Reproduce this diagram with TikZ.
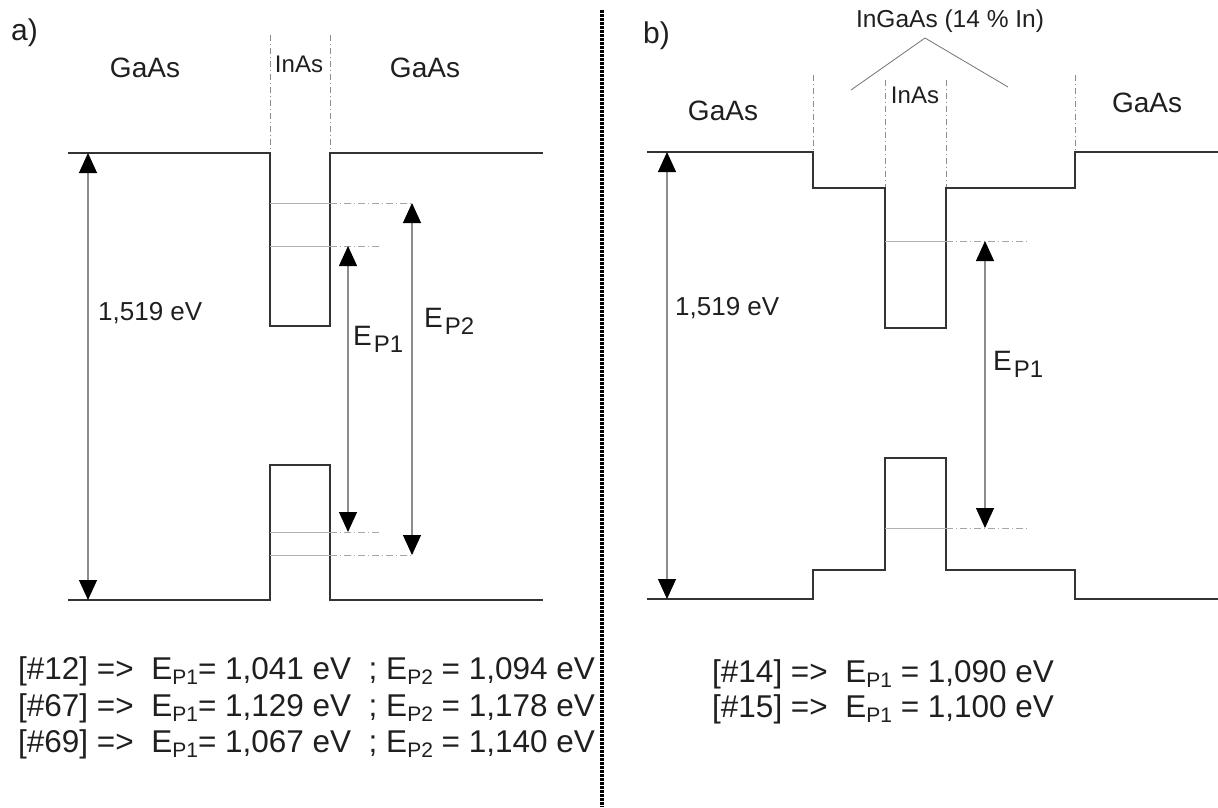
\documentclass[tikz,border=0pt]{standalone}
\usepackage{fontspec}
\setmainfont{Liberation Sans}
\usetikzlibrary{arrows.meta}

\newcommand{\EPlabel}[1]{E\kern2pt\raisebox{-7pt}{\fontsize{24}{24}\selectfont P#1}}
\newcommand{\EPtext}[1]{E\raisebox{-5pt}{\fontsize{21}{21}\selectfont P#1}}

\begin{document}
\begin{tikzpicture}[x=1pt, y=-1pt,
  >={Triangle[width=18pt,length=20pt,color=black]},
  every node/.style={inner sep=0pt, text=black!88},
  band/.style={line width=2.3pt, black!80},
  level/.style={line width=1pt, black!30},
  ext/.style={line width=1pt, black!35, dash pattern=on 7pt off 3pt on 1pt off 3pt},
  guide/.style={line width=0.8pt, black!45, dash pattern=on 6pt off 3pt on 1pt off 3pt},
  gap/.style={<->, line width=1.1pt, black!45},
  big/.style={font=\fontsize{28}{30}\selectfont},
  mid/.style={font=\fontsize{24}{26}\selectfont},
  res/.style={font=\fontsize{31.5}{33}\selectfont, anchor=base west}]
  \useasboundingbox (0,0) rectangle (1218,807);

  \node[font=\fontsize{30}{32}\selectfont, anchor=base west] (la) at (11,40) {a)};
  \node[big, anchor=base] (gaasA1) at (145,77) {GaAs};
  \node[mid, anchor=base] (inasA) at (299,72) {InAs};
  \node[big, anchor=base] (gaasA2) at (425,77) {GaAs};
  \draw[guide] (270,35) -- (270,153);
  \draw[guide] (330,35) -- (330,153);
  \draw[band] (68,153) -| (270,326) -| (330,153) -- (543,153);
  \draw[band] (68,600) -| (270,465) -| (330,600) -- (543,600);
  \draw[level] (270,203) -- (330,203);
  \draw[level] (270,246) -- (330,246);
  \draw[level] (270,532) -- (330,532);
  \draw[level] (270,555) -- (330,555);
  \draw[ext] (330,203) -- (412,203);
  \draw[ext] (330,246) -- (380,246);
  \draw[ext] (330,532) -- (380,532);
  \draw[ext] (330,555) -- (412,555);
  \draw[gap] (88,153) -- (88,600);
  \draw[gap] (348,246) -- (348,532);
  \draw[gap] (412,203) -- (412,555);
  \node[font=\fontsize{26}{28}\selectfont, anchor=base west] (egA) at (98,320) {1,519 eV};
  \node[big, anchor=base west] (ep1A) at (353,345) {\EPlabel{1}};
  \node[big, anchor=base west] (ep2A) at (424,327) {\EPlabel{2}};

  \draw[line width=3.5pt, dash pattern=on 2.5pt off 1.5pt] (602,10) -- (602,807);

  \node[font=\fontsize{30}{32}\selectfont, anchor=base west] (lb) at (643,43) {b)};
  \node[font=\fontsize{24.5}{26}\selectfont, anchor=base] (ingaas) at (950,27) {InGaAs (14 \% In)};
  \draw[line width=0.8pt, black!55] (851,90) -- (925,38) -- (1008,87);
  \node[mid, anchor=base] (inasB) at (915,103) {InAs};
  \node[big, anchor=base] (gaasB1) at (723,120) {GaAs};
  \node[big, anchor=base] (gaasB2) at (1147,112) {GaAs};
  \draw[guide] (813,75) -- (813,152);
  \draw[guide] (885,80) -- (885,188);
  \draw[guide] (946,80) -- (946,188);
  \draw[guide] (1075,75) -- (1075,152);
  \draw[band] (647,152) -| (813,188) -| (885,328) -| (946,188) -| (1075,152) -- (1218,152);
  \draw[band] (647,599) -| (813,570) -| (885,458) -| (946,570) -| (1075,599) -- (1218,599);
  \draw[level] (885,241) -- (946,241);
  \draw[level] (885,528) -- (946,528);
  \draw[ext] (946,241) -- (1027,241);
  \draw[ext] (946,528) -- (1027,528);
  \draw[gap] (667,152) -- (667,599);
  \draw[gap] (985,241) -- (985,528);
  \node[font=\fontsize{26}{28}\selectfont, anchor=base west] (egB) at (675,315) {1,519 eV};
  \node[big, anchor=base west] (ep1B) at (993,370) {\EPlabel{1}};

  \node[res] (r12) at (18,679) {[\#12] =>\ \ \EPtext{1}= 1,041 eV\ \ ; \EPtext{2} = 1,094 eV};
  \node[res] (r67) at (18,716) {[\#67] =>\ \ \EPtext{1}= 1,129 eV\ \ ; \EPtext{2} = 1,178 eV};
  \node[res] (r69) at (18,752) {[\#69] =>\ \ \EPtext{1}= 1,067 eV\ \ ; \EPtext{2} = 1,140 eV};
  \node[res] (r14) at (712,682) {[\#14] =>\ \ \EPtext{1} = 1,090 eV};
  \node[res] (r15) at (712,717) {[\#15] =>\ \ \EPtext{1} = 1,100 eV};
\end{tikzpicture}
\end{document}
